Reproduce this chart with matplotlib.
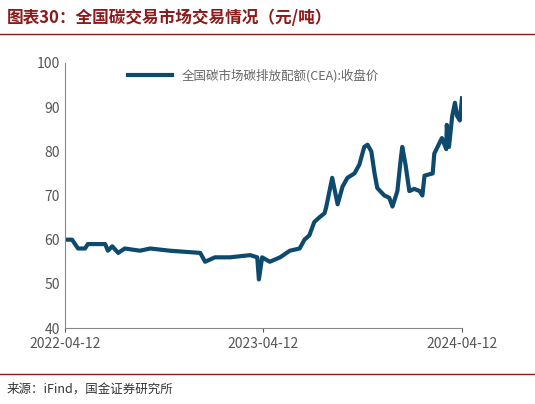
import pandas as pd
import matplotlib.pyplot as plt
import matplotlib.dates as mdates

plt.rcParams['font.family'] = ['Noto Sans CJK SC', 'DejaVu Sans']

# CEA closing price (yuan/ton)
dates = ['2022-04-12', '2022-04-25', '2022-05-06', '2022-05-19', '2022-05-24', '2022-06-25',
         '2022-06-30', '2022-07-08', '2022-07-19', '2022-07-31', '2022-08-28', '2022-09-16',
         '2022-10-22', '2022-12-17', '2022-12-26', '2023-01-13', '2023-02-10', '2023-03-19',
         '2023-04-01', '2023-04-04', '2023-04-10', '2023-04-24', '2023-05-13', '2023-05-31',
         '2023-06-18', '2023-06-27', '2023-07-06', '2023-07-15', '2023-07-24', '2023-08-03',
         '2023-08-06', '2023-08-17', '2023-08-27', '2023-09-05', '2023-09-14', '2023-09-27',
         '2023-10-06', '2023-10-15', '2023-10-21', '2023-10-28', '2023-11-03', '2023-11-08',
         '2023-11-21', '2023-11-30', '2023-12-06', '2023-12-15', '2023-12-21', '2023-12-24',
         '2023-12-30', '2024-01-06', '2024-01-15', '2024-01-25', '2024-01-30', '2024-02-03',
         '2024-02-18', '2024-02-21', '2024-03-06', '2024-03-14', '2024-03-15', '2024-03-19',
         '2024-03-25', '2024-03-30', '2024-04-03', '2024-04-08', '2024-04-12']
prices = [60, 60, 58, 58, 59, 59,
          57.5, 58.5, 57, 58, 57.5, 58,
          57.5, 57, 55, 56, 56, 56.5,
          56, 51, 56, 55, 56, 57.5,
          58, 60, 61, 64, 65, 66,
          67.4, 74, 68, 72, 74, 75,
          77, 81, 81.5, 80, 75, 71.7,
          70, 69.5, 67.5, 71, 78, 81,
          77, 71, 71.5, 71, 70, 74.5,
          75, 79.5, 83, 80.5, 86, 81,
          88, 91, 88, 87, 92]
xticks = ['2022-04-12', '2023-04-12', '2024-04-12']

d = pd.to_datetime(dates)
fig = plt.figure(figsize=(5.35, 4.04), dpi=100)
ax = fig.add_axes([65/535, 1-328/404, 397/535, 265/404])
ax.plot(d, prices, color='#0d4a6e', lw=3, label='全国碳市场碳排放配额(CEA):收盘价')
ax.set_xlim(pd.Timestamp(xticks[0]), pd.Timestamp(xticks[-1]))
ax.set_ylim(40, 100)
ax.set_xticks(pd.to_datetime(xticks))
ax.xaxis.set_major_formatter(mdates.DateFormatter('%Y-%m-%d'))
ax.tick_params(colors='#555555', labelsize=10, length=3)
ax.tick_params(axis='y', length=0)
for s in ['top', 'right']:
    ax.spines[s].set_visible(False)
for s in ['left', 'bottom']:
    ax.spines[s].set_color('#888888')
leg = ax.legend(loc='upper left', bbox_to_anchor=(0.13, 1.02), frameon=False, fontsize=9,
                handlelength=3.5)
for t in leg.get_texts():
    t.set_color('#666666')

fig.text(0.012, 0.955, '图表30：全国碳交易市场交易情况（元/吨）', fontsize=12, fontweight='bold',
         color='#8b1a1a', va='center', style='italic')
fig.add_artist(plt.Line2D([0, 1], [0.915, 0.915], color='#8b1a1a', lw=1))
fig.add_artist(plt.Line2D([0, 1], [0.075, 0.075], color='#8b1a1a', lw=1))
fig.text(0.012, 0.037, '来源：iFind，国金证券研究所', fontsize=9, color='#333333', va='center')
fig.savefig('out.png')
